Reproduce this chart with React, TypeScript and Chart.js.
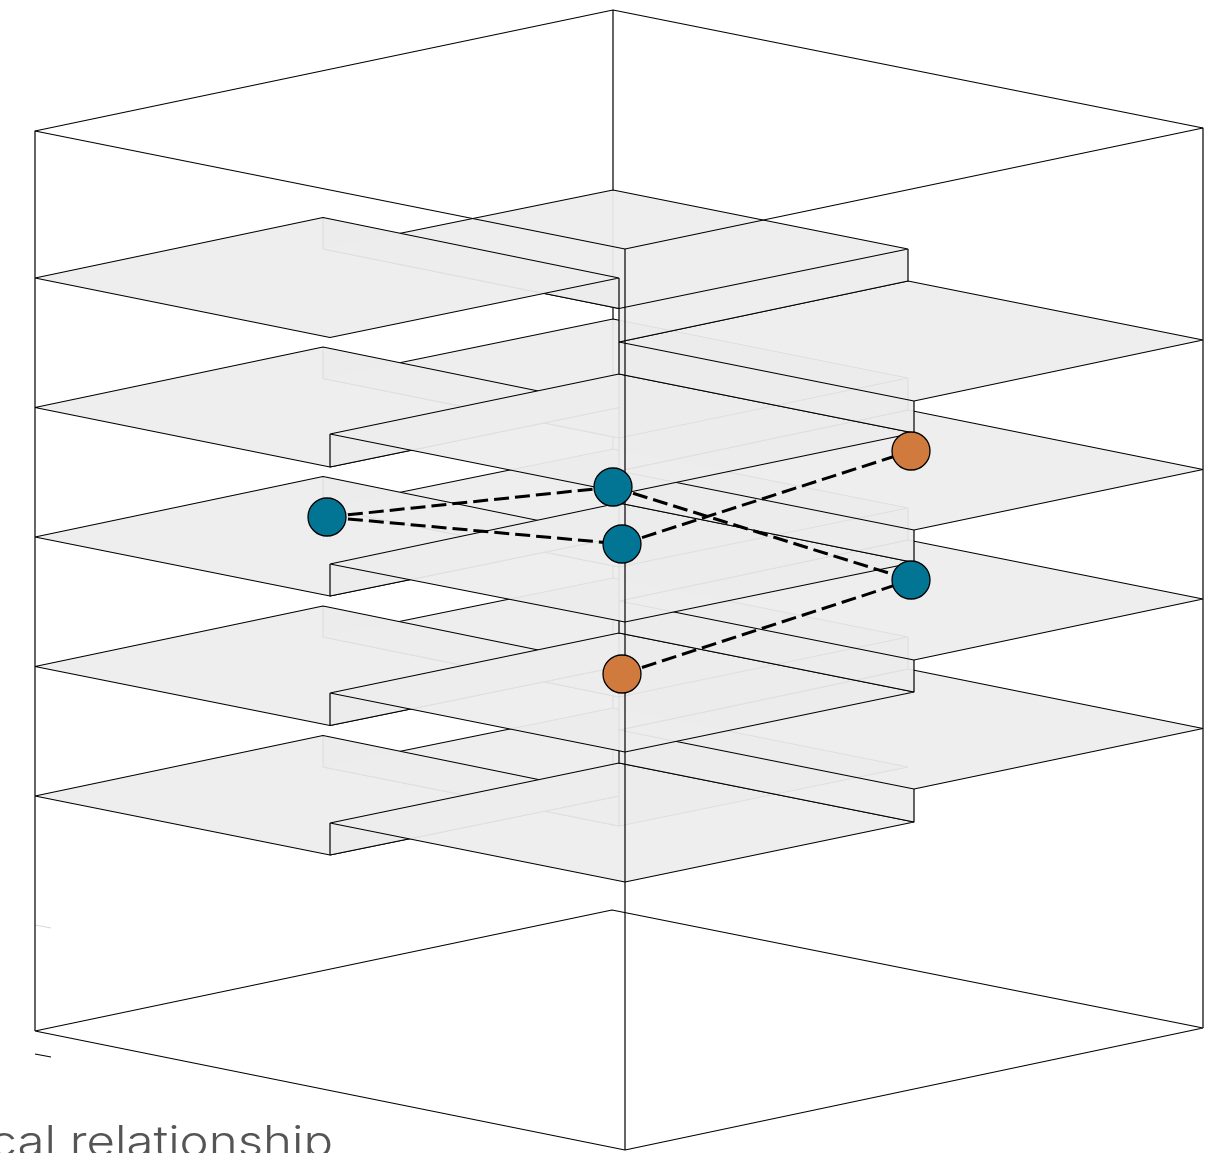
import React, { useEffect, useRef } from "react";
import { Chart, registerables } from "chart.js";

Chart.register(...registerables);

// Outer box
const boxBackEdgeX = [613, 613];
const boxBackEdgeY = [10, 826];
const boxOutline: number[][][] = [
  [[35, 1031], [35, 131], [613, 10], [1203, 128], [1203, 1028]],
  [[35, 131], [625, 249], [1203, 128]],
  [[625, 249], [625, 1150]],
  [[35, 1031], [625, 1150], [1203, 1028], [612, 910], [35, 1031]],
];

// Spiral floor: the x of each quadrant's four corners, and y for every turn
const leftX = [35, 323, 619, 330];
const leftY = [
  [278, 217.5, 278, 337.5],
  [407.5, 347, 407.5, 467],
  [537, 476.5, 537, 596],
  [666.5, 606, 666.5, 725.5],
  [796, 735.5, 796, 855],
];
const backX = [613, 908, 619, 323];
const backY = [
  [190, 249, 308.5, 249],
  [319, 378, 438, 378.5],
  [449, 508, 567, 508],
  [578, 637, 697, 637],
  [708, 767, 826, 767],
];
const rightX = [619, 908, 1203, 914];
const rightY = [
  [342, 281, 340, 401],
  [471, 410, 469.5, 530],
  [601, 540, 599, 660],
  [730, 669, 728.5, 789],
];
const frontX = [330, 619, 914, 625];
const frontY = [
  [434, 374, 433, 493],
  [564, 503, 562.5, 622],
  [693, 633, 692, 752],
  [823, 763, 822, 882],
];

// Network
const tealNodes = [
  { x: 327, y: 517 },
  { x: 613, y: 487 },
  { x: 622, y: 544 },
  { x: 911, y: 580 },
];
const orangeNodes = [
  { x: 911, y: 451 },
  { x: 622, y: 674 },
];
const links = [
  [tealNodes[0], tealNodes[1]],
  [tealNodes[0], tealNodes[2]],
  [tealNodes[1], tealNodes[3]],
  [tealNodes[2], orangeNodes[0]],
  [orangeNodes[1], tealNodes[3]],
];

// Stray tick marks by the left edge
const darkTick = [{ x: 35, y: 1054 }, { x: 51, y: 1057 }];
const faintTick = [{ x: 35, y: 925 }, { x: 51, y: 928 }];

const captionText = "cal relationship";

const FILL = "rgba(237,237,237,0.94)";
const LINE = 1.2;

const shape = (pts: { x: number; y: number }[]) => ({
  type: "line" as const,
  data: [...pts, pts[0]],
  fill: "shape",
  backgroundColor: FILL,
  borderColor: "#000",
  borderWidth: LINE,
  pointRadius: 0,
  tension: 0,
  borderJoinStyle: "bevel" as const,
});

// A riser between two floors: its upper edge is drawn by the floor above it.
const riser = (pts: { x: number; y: number }[]) => ({
  ...shape(pts),
  segment: {
    borderColor: (c: any) => (c.p0DataIndex === 0 ? "rgba(0,0,0,0)" : undefined),
  },
});

const corners = (xs: number[], ys: number[]) => xs.map((x, i) => ({ x, y: ys[i] }));

const plain = (pts: { x: number; y: number }[], color = "#000") => ({
  type: "line" as const,
  data: pts,
  fill: false,
  borderColor: color,
  borderWidth: LINE,
  pointRadius: 0,
  tension: 0,
  borderJoinStyle: "bevel" as const,
});

function floorDatasets() {
  const out: any[] = [];
  leftY.forEach((ly, k) => {
    const L = corners(leftX, ly);
    const B = corners(backX, backY[k]);
    out.push(shape(L));
    out.push(riser([L[1], L[2], B[2], B[3]]));
    out.push(shape(B));
    if (k < rightY.length) {
      const R = corners(rightX, rightY[k]);
      const F = corners(frontX, frontY[k]);
      const nextL = corners(leftX, leftY[k + 1]);
      out.push(riser([B[2], B[1], R[1], R[0]]));
      out.push(shape(R));
      out.push(riser([R[0], R[3], F[2], F[1]]));
      out.push(shape(F));
      out.push(riser([F[0], F[1], nextL[2], nextL[3]]));
    }
  });
  return out;
}

const captionPlugin = {
  id: "caption",
  afterDraw(chart: Chart) {
    const { ctx } = chart;
    ctx.save();
    ctx.font = '300 42px Inter, Lato, sans-serif';
    ctx.fillStyle = "#555555";
    ctx.textBaseline = "alphabetic";
    ctx.textAlign = "right";
    ctx.scale(1.17, 1);
    ctx.fillText(captionText, 333 / 1.17, 1156);
    ctx.restore();
  },
};

export default function App() {
  const ref = useRef<HTMLCanvasElement>(null);
  useEffect(() => {
    const datasets: any[] = [
      {
        type: "scatter",
        data: tealNodes,
        backgroundColor: "#027594",
        borderColor: "#000",
        borderWidth: 1.3,
        pointRadius: 19,
        showLine: false,
      },
      {
        type: "scatter",
        data: orangeNodes,
        backgroundColor: "#D07A3D",
        borderColor: "#000",
        borderWidth: 1.3,
        pointRadius: 19,
        showLine: false,
      },
      ...links.map((pts) => ({
        type: "line",
        data: pts,
        fill: false,
        borderColor: "#000",
        borderWidth: 3,
        borderDash: [15, 6],
        pointRadius: 0,
        tension: 0,
      })),
      ...boxOutline.map((seg) => plain(seg.map(([x, y]) => ({ x, y })))),
      plain(darkTick),
      plain(faintTick, "#d8d8d8"),
      ...floorDatasets(),
      plain(boxBackEdgeX.map((x, i) => ({ x, y: boxBackEdgeY[i] }))),
    ];
    const chart = new Chart(ref.current!, {
      type: "line",
      data: { datasets },
      options: {
        animation: false,
        responsive: false,
        layout: { padding: 0, autoPadding: false },
        events: [],
        scales: {
          x: { type: "linear", min: 0, max: 1228, display: false },
          y: { type: "linear", min: 0, max: 1153, reverse: true, display: false },
        },
        plugins: { legend: { display: false }, tooltip: { enabled: false }, title: { display: false } },
      },
      plugins: [captionPlugin],
    } as any);
    return () => chart.destroy();
  }, []);
  return (
    <div style={{ position: "absolute", left: 0, top: 0, width: 1228, height: 1153, overflow: "hidden", background: "#fff" }}>
      <canvas ref={ref} width={1228} height={1153} style={{ display: "block" }} />
    </div>
  );
}
